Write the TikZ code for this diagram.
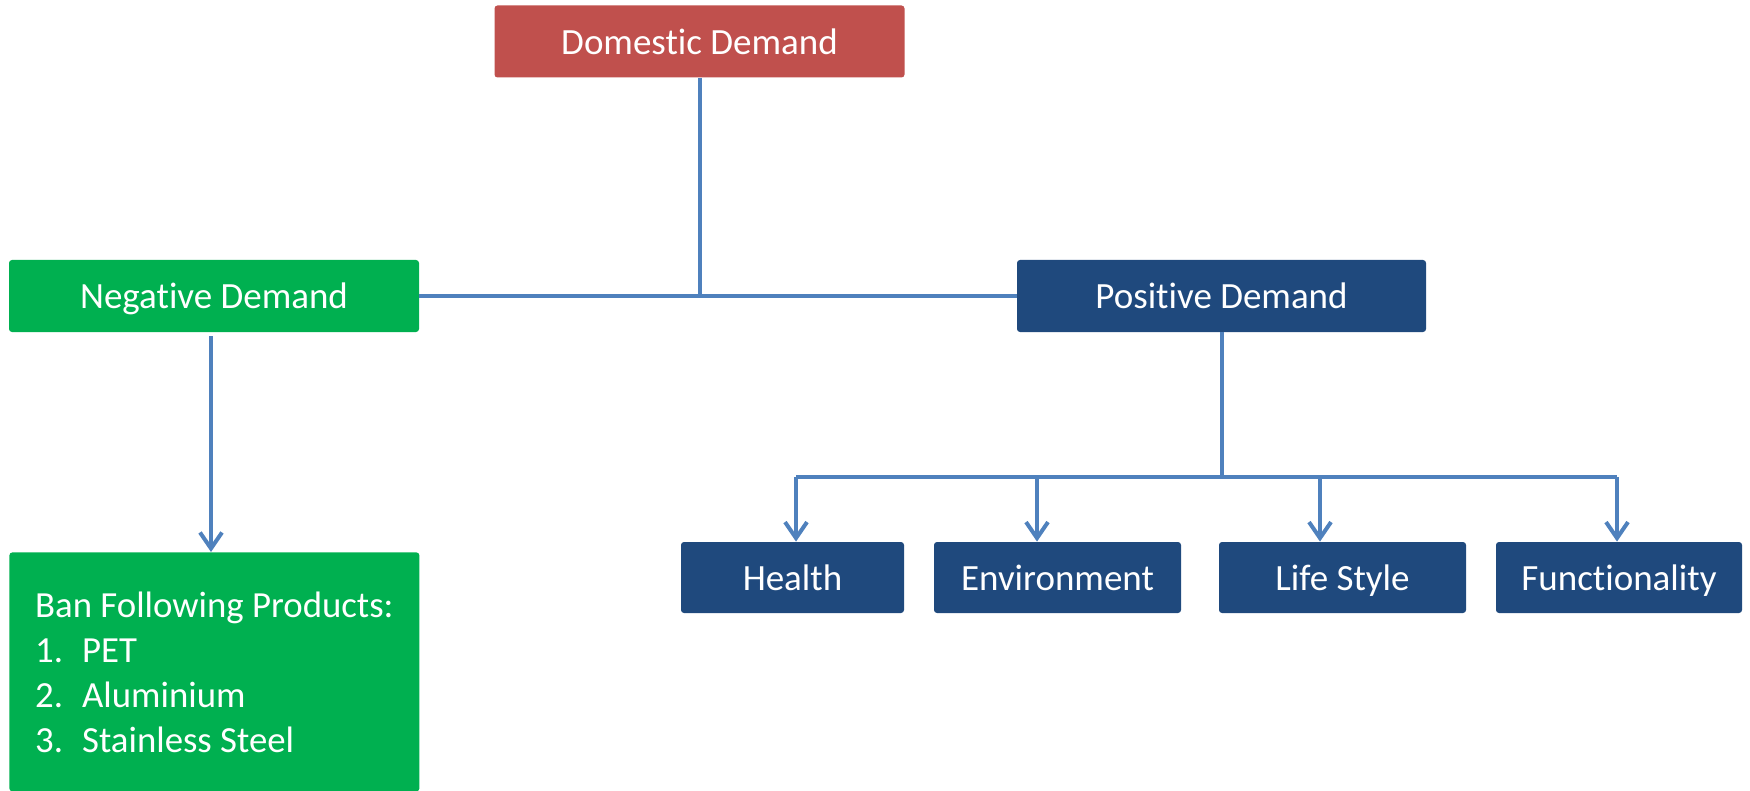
\documentclass[tikz,border=0pt]{standalone}
\usepackage{fontspec}
\setmainfont[Ligatures=NoCommon]{Carlito}
\usetikzlibrary{arrows.meta}
\definecolor{demandred}{HTML}{C0504D}
\definecolor{demandgreen}{HTML}{00B050}
\definecolor{demandblue}{HTML}{1F497D}
\definecolor{linkblue}{HTML}{4F81BD}
\tikzset{
  box/.style = {rounded corners=1.5pt, inner sep=0pt, text=white,
                minimum height=36pt, text height=14.8pt, text depth=1.9pt,
                font=\fontsize{18.5}{22}\selectfont},
  redbox/.style = {box, fill=demandred},
  greenbox/.style = {box, fill=demandgreen},
  bluebox/.style = {box, fill=demandblue, minimum height=35.5pt},
  link/.style = {draw=linkblue, line width=2pt},
  tip/.style = {-{Straight Barb[length=8pt,width=11pt,line width=2pt]}}
}
\begin{document}
\begin{tikzpicture}[x=0.5pt,y=-0.5pt]
    \useasboundingbox (0,0) rectangle (1750,791);
    % top level
    \node[redbox, minimum width=205pt] (dom) at (699.5,41.5) {Domestic Demand};
    \node[greenbox, minimum width=205pt] (neg) at (214,296) {Negative Demand};
    \node[bluebox, minimum width=204.5pt, minimum height=36pt] (pos) at (1221.5,296) {Positive Demand};
    % bottom level
    \node[greenbox, anchor=north west, minimum width=205pt, minimum height=119.5pt,
          text height=, text depth=, align=left, inner xsep=12pt,
          font=\fontsize{18.4}{22.5}\selectfont] (ban) at (9,552)
          {Ban Following Products:\\
           \makebox[23.5pt][l]{1.}PET\\
           \makebox[23.5pt][l]{2.}Aluminium\\
           \makebox[23.5pt][l]{3.}Stainless Steel};
    \node[bluebox, minimum width=111.5pt] (health) at (792.5,577.5) {Health};
    \node[bluebox, minimum width=123.5pt] (env) at (1057.5,577.5) {Environment};
    \node[bluebox, minimum width=123.5pt] (life) at (1342.5,577.5) {Life Style};
    \node[bluebox, minimum width=123pt] (func) at (1619,577.5) {Functionality};
    % connectors
    \draw[link] (dom.south) -- (dom.south |- neg.east);
    \draw[link] (neg.east) -- (pos.west);
    \draw[link,tip] ([xshift=-1.5pt,yshift=-2pt]neg.south) -- ([xshift=-1.5pt]neg.south |- ban.north);
    \coordinate (b1) at (796,477);
    \coordinate (b2) at (1037,477);
    \coordinate (b3) at (1320,477);
    \coordinate (b4) at (1617,477);
    \draw[link] (pos.south) -- (pos.south |- b1);
    \draw[link] (b1) -- (b4);
    \foreach \c/\n in {b1/health,b2/env,b3/life,b4/func}
        \draw[link,tip] (\c) -- (\c |- \n.north);
\end{tikzpicture}
\end{document}
